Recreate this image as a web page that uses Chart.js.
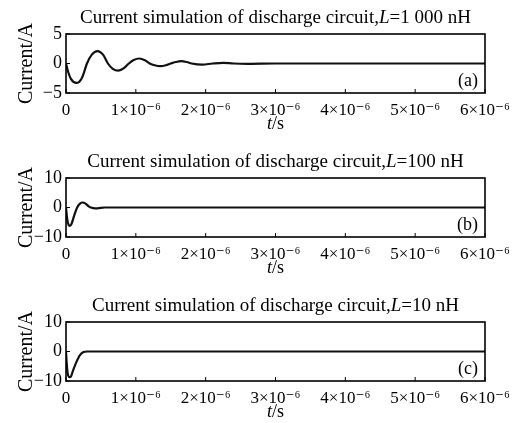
<!DOCTYPE html>
<html><head><meta charset="utf-8">
<script src="https://cdn.jsdelivr.net/npm/chart.js@4.4.0/dist/chart.umd.min.js"></script>
<style>
html,body{margin:0;padding:0;background:#fff;overflow:hidden;width:518px;height:423px;}
.panel{position:absolute;left:0;width:518px;height:144px;}
</style></head><body>
<div class="panel" style="top:0px"><canvas id="c0"></canvas></div>
<div class="panel" style="top:144px"><canvas id="c1"></canvas></div>
<div class="panel" style="top:288px"><canvas id="c2"></canvas></div>
<script>
// ---- data (time in microseconds, current in A) ----
const timeA    = [0, 0.03, 0.07, 0.15, 0.23, 0.30, 0.37, 0.45, 0.53, 0.60, 0.67, 0.75, 0.83, 0.90, 0.97, 1.05, 1.13, 1.20, 1.27, 1.35, 1.43, 1.50, 1.57, 1.65, 1.73, 1.80, 1.95, 2.10, 2.25, 2.40, 2.60, 3.0, 4.0, 5.0, 6.0];
const currentA = [0, -1.4, -2.6, -3.3, -2.4, 0.0, 1.5, 2.1, 1.5, 0.0, -0.9, -1.2, -0.8, 0.0, 0.6, 0.85, 0.55, 0.0, -0.3, -0.45, -0.3, 0.0, 0.25, 0.4, 0.25, 0.0, -0.2, 0.0, 0.12, 0.0, -0.05, 0.0, 0.0, 0.0, 0.0];

const timeB    = [0, 0.015, 0.035, 0.057, 0.08, 0.12, 0.16, 0.20, 0.24, 0.28, 0.33, 0.39, 0.45, 0.55, 1.0, 2.0, 3.0, 4.0, 5.0, 6.0];
const currentB = [0, -3.5, -5.8, -6.2, -5.5, -2.5, 0.0, 1.3, 1.7, 1.3, 0.3, -0.2, -0.3, 0.0, 0.0, 0.0, 0.0, 0.0, 0.0, 0.0];

const timeC    = [0, 0.01, 0.025, 0.05, 0.07, 0.10, 0.15, 0.20, 0.25, 0.30, 1.0, 2.0, 3.0, 4.0, 5.0, 6.0];
const currentC = [0, -4.0, -7.5, -8.7, -8.5, -6.5, -3.5, -1.2, -0.2, 0.0, 0.0, 0.0, 0.0, 0.0, 0.0, 0.0];

const xTickValues = [0, 1, 2, 3, 4, 5, 6];
const xTickLabels = ['0', '1\u00d710\u207b\u2076', '2\u00d710\u207b\u2076', '3\u00d710\u207b\u2076', '4\u00d710\u207b\u2076', '5\u00d710\u207b\u2076', '6\u00d710\u207b\u2076'];
const yRanges = [5, 10, 10];
const titlePrefix = 'Current simulation of discharge circuit,';
const inductances = ['1 000 nH', '100 nH', '10 nH'];
const panelLabels = ['(a)', '(b)', '(c)'];
const yAxisTitle = 'Current/A';

const series = [[timeA, currentA], [timeB, currentB], [timeC, currentC]];
const SERIF = '"Liberation Serif", "DejaVu Serif", serif';

function drawRich(ctx, segs, cx, cy, size) {
  let total = 0;
  const widths = segs.map(([t, it]) => {
    ctx.font = (it ? 'italic ' : '') + size + 'px ' + SERIF;
    const w = ctx.measureText(t).width; total += w; return w;
  });
  let x = cx - total / 2;
  ctx.textAlign = 'left'; ctx.textBaseline = 'middle';
  segs.forEach(([t, it], i) => {
    ctx.font = (it ? 'italic ' : '') + size + 'px ' + SERIF;
    ctx.fillText(t, x, cy); x += widths[i];
  });
}

const decor = {
  id: 'decor',
  afterDraw(chart, args, opts) {
    const {ctx, chartArea: a, scales: {x, y}} = chart;
    ctx.save();
    ctx.strokeStyle = '#000'; ctx.fillStyle = '#000';
    ctx.lineWidth = 1;
    x.ticks.forEach(t => {
      const px = x.getPixelForValue(t.value);
      ctx.beginPath(); ctx.moveTo(px, a.bottom); ctx.lineTo(px, a.bottom - 4); ctx.stroke();
    });
    y.ticks.forEach(t => {
      const py = y.getPixelForValue(t.value);
      ctx.beginPath(); ctx.moveTo(a.left, py); ctx.lineTo(a.left + 4, py); ctx.stroke();
    });
    ctx.lineWidth = 1.6;
    ctx.strokeRect(a.left, a.top, a.right - a.left, a.bottom - a.top);
    const cx = (a.left + a.right) / 2;
    drawRich(ctx, [[titlePrefix, false], ['L', true], ['=' + opts.ind, false]], cx, a.top - 16, 19);
    drawRich(ctx, [['t', true], ['/s', false]], cx, a.bottom + 31, 18);
    ctx.font = '18px ' + SERIF; ctx.textAlign = 'right'; ctx.textBaseline = 'middle';
    ctx.fillText(opts.label, a.right - 7, a.bottom - 11.5);
    ctx.restore();
  }
};

series.forEach(([ts, vs], i) => {
  const r = yRanges[i];
  new Chart(document.getElementById('c' + i), {
    type: 'line',
    data: { datasets: [{ data: ts.map((t, k) => ({x: t, y: vs[k]})), borderColor: '#111', borderWidth: 2.2, pointRadius: 0, cubicInterpolationMode: 'monotone', fill: false }] },
    options: {
      responsive: true, maintainAspectRatio: false, animation: false,
      layout: { padding: { top: 34, right: 33, left: 0, bottom: 0 } },
      plugins: { legend: { display: false }, tooltip: { enabled: false }, title: { display: false },
        decor: { ind: inductances[i], label: panelLabels[i] } },
      scales: {
        x: { type: 'linear', min: 0, max: 6,
          afterBuildTicks: s => { s.ticks = xTickValues.map(v => ({value: v})); },
          afterFit: s => { s.height = 51; },
          grid: { display: false, drawTicks: false }, border: { display: false },
          ticks: { color: '#000', padding: 7, maxRotation: 0, font: { family: SERIF, size: 17 },
            callback: (v) => xTickLabels[xTickValues.indexOf(v)] } },
        y: { type: 'linear', min: -r, max: r,
          afterBuildTicks: s => { s.ticks = [-r, 0, r].map(v => ({value: v})); },
          afterFit: s => { s.width = 66; },
          grid: { display: false, drawTicks: false }, border: { display: false },
          title: { display: true, text: yAxisTitle, color: '#000', padding: { top: 15, bottom: 0 }, font: { family: SERIF, size: 20 } },
          ticks: { color: '#000', padding: 4, font: { family: SERIF, size: 18 },
            callback: (v) => String(v).replace('-', '\u2212') } }
      }
    },
    plugins: [decor]
  });
});
</script>
</body></html>
